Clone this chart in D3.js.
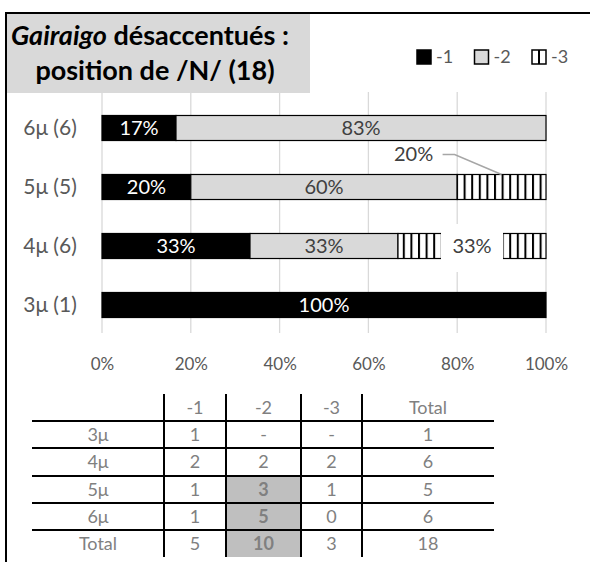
<!DOCTYPE html>
<html lang="fr">
<head>
<meta charset="UTF-8">
<title>Gairaigo désaccentués</title>
<script src="https://cdn.jsdelivr.net/npm/d3@7/dist/d3.min.js"></script>
<style>
  body { margin: 0; background: #fff; }
  text { font-family: Lato, "Open Sans", sans-serif; }
</style>
</head>
<body>
<svg width="590" height="562"></svg>
<script>
// données
var categories = ['3μ', '4μ', '5μ', '6μ'];
var rowLabels = ['3μ (1)', '4μ (6)', '5μ (5)', '6μ (6)'];
var series = ['-1', '-2', '-3'];
var minus1 = [1, 2, 1, 1];
var minus2 = [0, 2, 3, 5];
var minus3 = [0, 2, 1, 0];
var xTicks = [0, 0.2, 0.4, 0.6, 0.8, 1];

// tableau
var tableHeader = ['', '-1', '-2', '-3', 'Total'];
var tableRowNames = ['3μ', '4μ', '5μ', '6μ', 'Total'];
var tableCells = [
    ['1', '-', '-', '1'],
    ['2', '2', '2', '6'],
    ['1', '3', '1', '5'],
    ['1', '5', '0', '6'],
    ['5', '10', '3', '18']
];
var highlighted = [[2, 1], [3, 1], [4, 1]]; // [ligne, colonne]

var svg = d3.select('svg');
var width = +svg.attr('width');
var height = +svg.attr('height');

svg.append('rect').attr('width', width).attr('height', height).attr('fill', '#fff');

// motif rayé vertical pour -3
var defs = svg.append('defs');
var pat = defs.append('pattern').attr('id', 'hatch').attr('patternUnits', 'userSpaceOnUse')
    .attr('width', 7.6).attr('height', 10);
pat.append('rect').attr('width', 7.6).attr('height', 10).attr('fill', '#fff');
pat.append('rect').attr('x', 0).attr('width', 2).attr('height', 10).attr('fill', '#000');

var fills = {'-1': '#000', '-2': '#d9d9d9', '-3': 'url(#hatch)'};

// échelles
var x = d3.scaleLinear().domain([0, 1]).range([102, 546]);
var y = d3.scaleBand().domain(categories.slice().reverse()).range([98.5, 334.5])
    .paddingInner(0.576).paddingOuter(0.288);

// grille
svg.append('g').selectAll('line').data(xTicks).enter().append('line')
    .attr('x1', function (d) { return x(d); })
    .attr('x2', function (d) { return x(d); })
    .attr('y1', 92).attr('y2', 333)
    .attr('stroke', '#d9d9d9').attr('stroke-width', 1.3);

// axe x (étiquettes seulement)
var xAxis = svg.append('g').attr('transform', 'translate(0,355)')
    .call(d3.axisBottom(x).tickValues(xTicks).tickFormat(d3.format('.0%')).tickSize(0));
xAxis.select('.domain').remove();
xAxis.selectAll('text').attr('font-size', 17).attr('fill', '#595959')
    .style('font-family', 'Lato, sans-serif');

// étiquettes des catégories
svg.append('g').selectAll('text').data(categories).enter().append('text')
    .attr('x', 50).attr('y', function (d) { return y(d) + y.bandwidth() / 2; })
    .attr('dy', '0.35em').attr('text-anchor', 'middle')
    .attr('font-size', 21).attr('fill', '#595959')
    .text(function (d, i) { return rowLabels[i]; });

// barres empilées
var rows = categories.map(function (c, i) {
    return {cat: c, '-1': minus1[i], '-2': minus2[i], '-3': minus3[i]};
});
var stack = d3.stack().keys(series).offset(d3.stackOffsetExpand);
var layers = stack(rows);

var segs = [];
layers.forEach(function (layer) {
    layer.forEach(function (d) {
        var v = d.data[layer.key];
        if (v > 0) segs.push({key: layer.key, cat: d.data.cat, x0: d[0], x1: d[1]});
    });
});

svg.append('g').selectAll('rect').data(segs).enter().append('rect')
    .attr('x', function (d) { return x(d.x0); })
    .attr('width', function (d) { return x(d.x1) - x(d.x0); })
    .attr('y', function (d) { return y(d.cat); })
    .attr('height', y.bandwidth())
    .attr('fill', function (d) { return fills[d.key]; })
    .attr('stroke', '#000').attr('stroke-width', 1.2);

// étiquettes de données
var labels = svg.append('g');
segs.forEach(function (d) {
    var cx = (x(d.x0) + x(d.x1)) / 2;
    var cy = y(d.cat) + y.bandwidth() / 2;
    var txt = Math.round((d.x1 - d.x0) * 100) + '%';
    var color = d.key === '-1' ? '#fff' : '#404040';
    if (d.key === '-3' && d.cat === '5μ') {
        // étiquette déportée avec trait de rappel
        var top = y(d.cat);
        labels.append('polyline')
            .attr('points', [[cx - 59, top - 20], [cx - 47, top - 20], [cx, top]].join(' '))
            .attr('fill', 'none').attr('stroke', '#a6a6a6').attr('stroke-width', 1.5);
        labels.append('text').attr('x', cx - 88).attr('y', top - 20).attr('dy', '0.35em')
            .attr('text-anchor', 'middle').attr('font-size', 20).attr('fill', '#404040').text(txt);
        return;
    }
    if (d.key === '-3') {
        labels.append('rect').attr('x', cx - 31).attr('y', cy - 22)
            .attr('width', 62).attr('height', 48).attr('fill', '#fff');
    }
    labels.append('text').attr('x', cx).attr('y', cy).attr('dy', '0.36em')
        .attr('text-anchor', 'middle').attr('font-size', 20).attr('fill', color).text(txt);
});

// titre
svg.append('rect').attr('x', 7).attr('y', 14).attr('width', 303).attr('height', 79).attr('fill', '#d9d9d9');
var t1 = svg.append('text').attr('x', 11).attr('y', 45).attr('font-size', 27).attr('font-weight', 'bold').attr('fill', '#000');
t1.append('tspan').attr('font-style', 'italic').text('Gairaigo');
t1.append('tspan').text(' désaccentués :');
svg.append('text').attr('x', 155).attr('y', 80).attr('text-anchor', 'middle')
    .attr('font-size', 27).attr('font-weight', 'bold').attr('fill', '#000')
    .text('position de /N/ (18)');

// légende
var legX = d3.scalePoint().domain(series).range([417, 532]);
var leg = svg.append('g').selectAll('g').data(series).enter().append('g')
    .attr('transform', function (d) { return 'translate(' + legX(d) + ',50)'; });
leg.append('rect').attr('width', 14).attr('height', 14)
    .attr('fill', function (d) { return d === '-3' ? '#fff' : fills[d]; })
    .attr('stroke', '#000').attr('stroke-width', 1.5);
leg.filter(function (d) { return d === '-3'; }).append('line')
    .attr('x1', 7).attr('x2', 7).attr('y1', 0).attr('y2', 14).attr('stroke', '#000').attr('stroke-width', 2);
leg.append('text').attr('x', 19).attr('y', 7).attr('dy', '0.35em')
    .attr('font-size', 18).attr('fill', '#595959').text(function (d) { return d; });

// tableau récapitulatif
var colX = [32, 164, 226, 301, 362, 494];
var rowY = [394, 421, 448, 476, 503, 530, 557];
var tg = svg.append('g');
highlighted.forEach(function (h) {
    var r = h[0] + 1, c = h[1] + 1;
    tg.append('rect').attr('x', colX[c]).attr('y', rowY[r])
        .attr('width', colX[c + 1] - colX[c]).attr('height', rowY[r + 1] - rowY[r])
        .attr('fill', '#bfbfbf');
});
// lignes horizontales
tg.selectAll('line.h').data(rowY.slice(1, 6)).enter().append('line')
    .attr('x1', colX[0]).attr('x2', colX[5])
    .attr('y1', function (d) { return d; }).attr('y2', function (d) { return d; })
    .attr('stroke', '#000').attr('stroke-width', 2);
// lignes verticales
tg.selectAll('line.v').data(colX.slice(1, 5)).enter().append('line')
    .attr('x1', function (d) { return d; }).attr('x2', function (d) { return d; })
    .attr('y1', rowY[0]).attr('y2', rowY[6])
    .attr('stroke', '#000').attr('stroke-width', 2);

function cellText(txt, c, r, bold) {
    tg.append('text').attr('x', (colX[c] + colX[c + 1]) / 2).attr('y', (rowY[r] + rowY[r + 1]) / 2)
        .attr('dy', '0.35em').attr('text-anchor', 'middle').attr('font-size', 18)
        .attr('font-weight', bold ? 'bold' : 'normal')
        .attr('fill', '#808080').text(txt);
}
tableHeader.forEach(function (h, c) { if (h) cellText(h, c, 0, false); });
tableRowNames.forEach(function (n, r) {
    cellText(n, 0, r + 1, false);
    tableCells[r].forEach(function (v, c) {
        var hl = highlighted.some(function (h) { return h[0] === r && h[1] === c; });
        cellText(v, c + 1, r + 1, hl);
    });
});

// cadre
svg.append('line').attr('x1', 5).attr('x2', 590).attr('y1', 13).attr('y2', 13).attr('stroke', '#000').attr('stroke-width', 2);
svg.append('line').attr('x1', 6).attr('x2', 6).attr('y1', 12).attr('y2', 562).attr('stroke', '#000').attr('stroke-width', 2);
</script>
</body>
</html>
